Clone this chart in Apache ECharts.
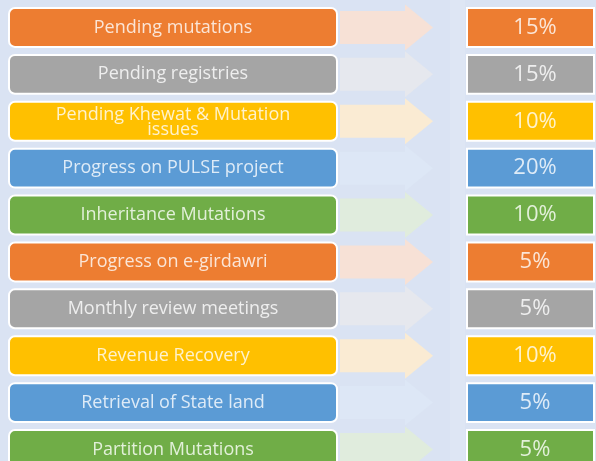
<!DOCTYPE html>
<html>
<head>
<meta charset="utf-8">
<script src="https://cdn.jsdelivr.net/npm/echarts@6/dist/echarts.min.js"></script>
<style>
  html, body { margin: 0; padding: 0; background: #dae3f3; }
  #chart { width: 596px; height: 461px; }
</style>
</head>
<body>
<div id="chart"></div>
<script>
// row labels, top to bottom
const tasks = [
  'Pending mutations',
  'Pending registries',
  'Pending Khewat & Mutation\nissues',
  'Progress on PULSE project',
  'Inheritance Mutations',
  'Progress on e-girdawri',
  'Monthly review meetings',
  'Revenue Recovery',
  'Retrieval of State land',
  'Partition Mutations'
]
// weight of each task (%)
const weights = [15, 15, 10, 20, 10, 5, 5, 10, 5, 5]

const palette = ['#ed7d31', '#a5a5a5', '#ffc000', '#5b9bd5', '#70ad47'] // box colours
const tints = ['#fbe0d0', '#e8e9ec', '#ffeccc', '#dde8f6', '#e0edd8'] // arrow colours
const textTints = ['#fbe5d6', '#eeeeee', '#fff2cc', '#deebf7', '#e2f0d9'] // text colours

const chart = echarts.init(document.getElementById('chart'))

function renderRow(params, api) {
  const idx = api.value(0)
  const c = idx % palette.length
  const cy = api.coord([0, idx])[1]
  const pitch = Math.abs(api.coord([0, 1])[1] - api.coord([0, 0])[1])
  const h = pitch * 0.83
  const top = cy - h / 2
  const multi = tasks[idx].indexOf('\n') >= 0
  return {
    type: 'group',
    children: [
      { // faded arrow
        type: 'polygon',
        shape: {
          points: [
            [340, cy - 16.5], [405, cy - 16.5], [405, cy - 23],
            [433, cy], [405, cy + 23], [405, cy + 16.5], [340, cy + 16.5]
          ]
        },
        style: { fill: tints[c], opacity: 0.85 }
      },
      { // label box
        type: 'rect',
        shape: { x: 9, y: top, width: 328, height: h, r: 6 },
        style: { fill: palette[c], stroke: '#fff', lineWidth: 2 }
      },
      {
        type: 'text',
        style: {
          x: 173, y: cy + (multi ? 1 : 0),
          text: tasks[idx],
          fill: textTints[c],
          font: '18px "Open Sans", sans-serif',
          lineHeight: 15,
          align: 'center', verticalAlign: 'middle'
        }
      },
      { // percent box
        type: 'rect',
        shape: { x: 467, y: top, width: 127, height: h },
        style: { fill: palette[c], stroke: '#fff', lineWidth: 2 }
      },
      {
        type: 'text',
        style: {
          x: 535, y: cy,
          text: api.value(1) + '%',
          fill: textTints[c],
          font: '22px "Open Sans", sans-serif',
          align: 'center', verticalAlign: 'middle'
        }
      }
    ]
  }
}

chart.setOption({
  backgroundColor: '#dae3f3',
  animation: false,
  graphic: [{
    type: 'rect',
    shape: { x: 450, y: 0, width: 15, height: 461 },
    style: { fill: '#dee6f4' },
    z: -1
  }],
  grid: { left: 0, right: 0, top: 4, bottom: 0 },
  xAxis: { type: 'value', min: 0, max: 596, show: false },
  // rows sit on integer positions; last row runs past the bottom edge
  yAxis: { type: 'value', inverse: true, min: -0.5, max: 9.245, show: false },
  series: [{
    type: 'custom',
    renderItem: renderRow,
    clip: false,
    data: weights.map((w, i) => [i, w])
  }]
})
</script>
</body>
</html>
